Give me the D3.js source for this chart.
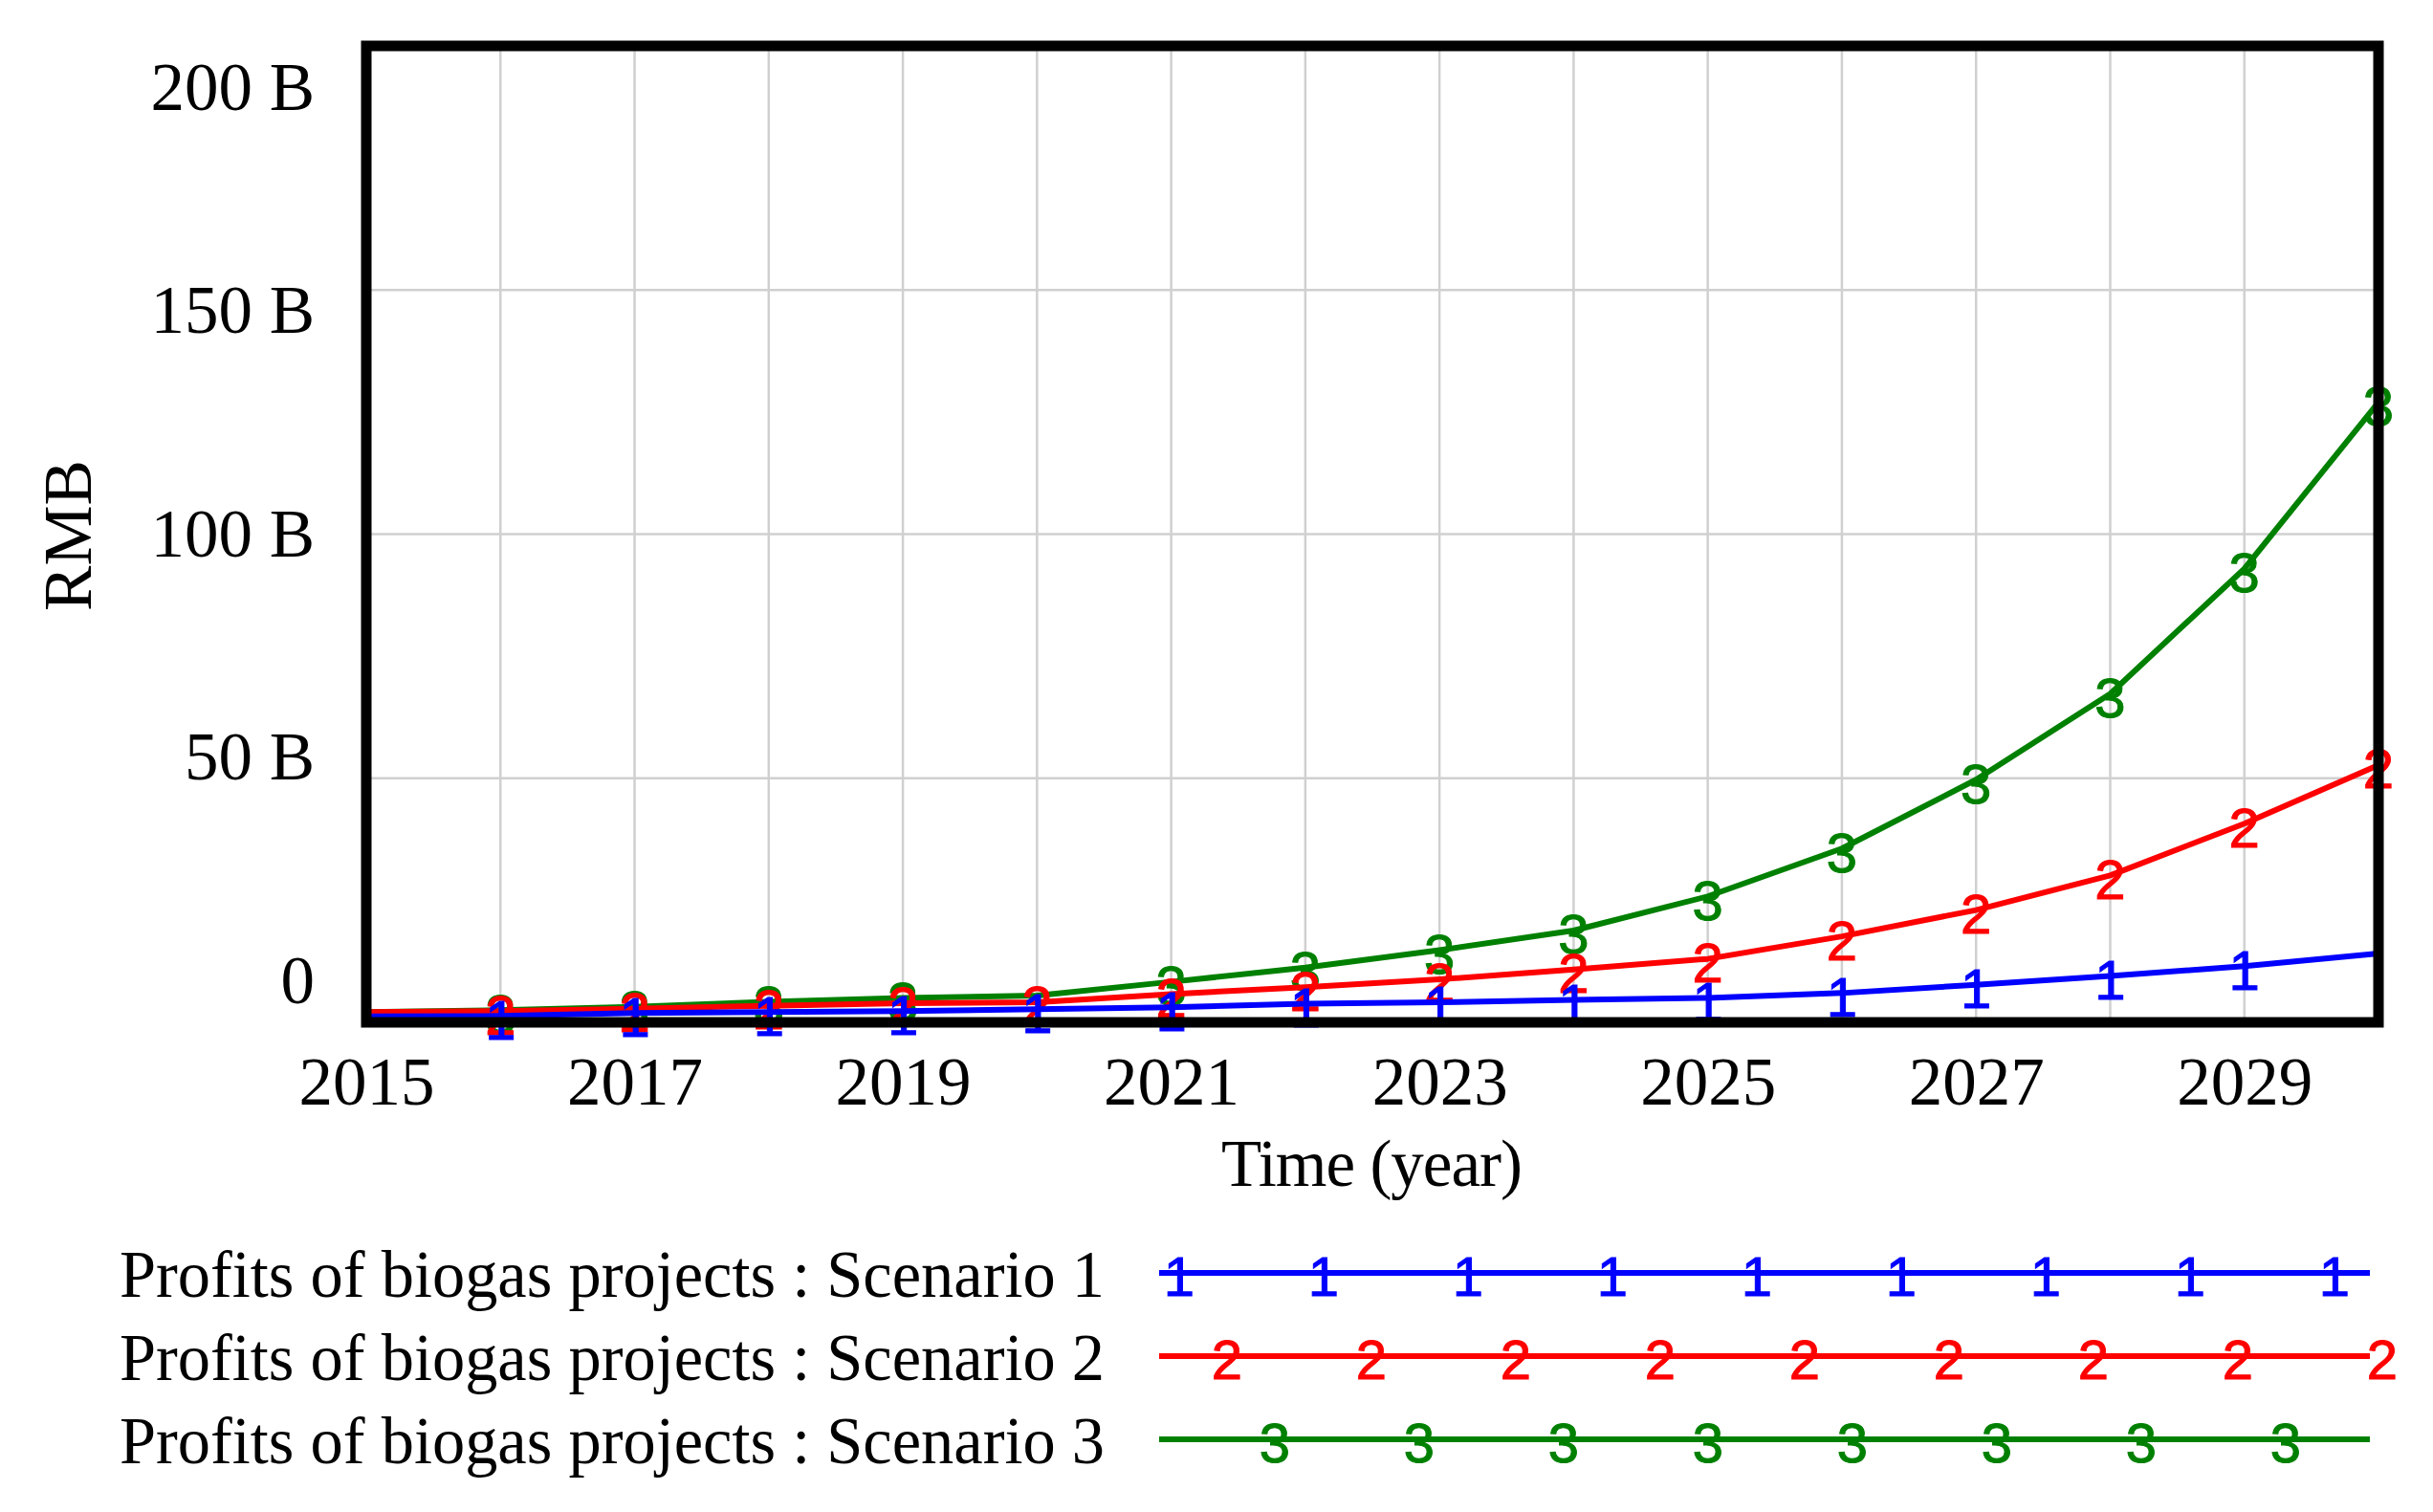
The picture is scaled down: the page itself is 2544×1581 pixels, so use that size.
<!DOCTYPE html>
<html>
<head>
<meta charset="utf-8">
<script src="https://cdn.jsdelivr.net/npm/d3@7/dist/d3.min.js"></script>
<style>
    body { margin: 0; background: #ffffff; }
    .serif { font-family: "Liberation Serif", "Times New Roman", serif; fill: #000; }
    .marker { font-family: "Liberation Sans", Arial, sans-serif; }
</style>
</head>
<body>
<svg id="chart" width="2544" height="1581"></svg>
<script>
// data (billion RMB)
const years = [2015, 2016, 2017, 2018, 2019, 2020, 2021, 2022, 2023, 2024, 2025, 2026, 2027, 2028, 2029, 2030];
const scenario1 = [1.2, 1.3, 1.9, 2.1, 2.3, 2.7, 3.1, 3.8, 4.1, 4.6, 5.0, 6.0, 7.7, 9.5, 11.5, 14.1];
const scenario2 = [2.1, 2.3, 2.8, 3.4, 3.9, 4.1, 5.8, 7.2, 8.8, 10.8, 13.0, 17.6, 23.0, 30.1, 40.7, 52.7];
const scenario3 = [2.1, 2.5, 3.2, 4.2, 5.0, 5.5, 8.3, 11.2, 14.8, 18.8, 25.8, 35.6, 49.7, 67.3, 92.9, 127.0];

// years where the numbered markers sit on each curve
const markers1 = [2016, 2017, 2018, 2019, 2020, 2021, 2022, 2023, 2024, 2025, 2026, 2027, 2028, 2029];
const markers2 = [2016, 2017, 2018, 2019, 2020, 2021, 2022, 2023, 2024, 2025, 2026, 2027, 2028, 2029, 2030];
const markers3 = [2016, 2017, 2018, 2019, 2021, 2022, 2023, 2024, 2025, 2026, 2027, 2028, 2029, 2030];

const xTicks = [2015, 2017, 2019, 2021, 2023, 2025, 2027, 2029];
const xGrid = [2016, 2017, 2018, 2019, 2020, 2021, 2022, 2023, 2024, 2025, 2026, 2027, 2028, 2029];
const yTicks = [0, 50, 100, 150, 200];
const yGrid = [50, 100, 150];

const seriesNames = [
    "Profits of biogas projects : Scenario 1",
    "Profits of biogas projects : Scenario 2",
    "Profits of biogas projects : Scenario 3"
];
const seriesColors = ["#0000ff", "#ff0000", "#008000"];
const seriesLabels = ["1", "2", "3"];

const series = [
    {name: seriesNames[0], color: seriesColors[0], label: seriesLabels[0], values: scenario1, markers: markers1},
    {name: seriesNames[1], color: seriesColors[1], label: seriesLabels[1], values: scenario2, markers: markers2},
    {name: seriesNames[2], color: seriesColors[2], label: seriesLabels[2], values: scenario3, markers: markers3}
];

const svg = d3.select("#chart");
const plot = {left: 383, right: 2487, top: 48, bottom: 1069};
const fontSize = 71;
const legendFont = 69;
const markerSize = 58;

let x = d3.scaleLinear().domain([2015, 2030]).range([plot.left, plot.right]);
let y = d3.scaleLinear().domain([0, 200]).range([plot.bottom, plot.top]);
// vensim spreads the value labels a bit inside the frame
let yLabel = d3.scaleLinear().domain([0, 200]).range([plot.bottom - 21, plot.top + 66]);

//grid
let gridG = svg.append("g").attr("id", "gridG");
gridG.selectAll("line.vgrid")
    .data(xGrid)
    .enter()
    .append("line")
    .attr("class", "vgrid")
    .attr("x1", d => x(d))
    .attr("x2", d => x(d))
    .attr("y1", plot.top)
    .attr("y2", plot.bottom)
    .attr("stroke", "#d0d0d0")
    .attr("stroke-width", 2.5);
gridG.selectAll("line.hgrid")
    .data(yGrid)
    .enter()
    .append("line")
    .attr("class", "hgrid")
    .attr("x1", plot.left)
    .attr("x2", plot.right)
    .attr("y1", d => y(d))
    .attr("y2", d => y(d))
    .attr("stroke", "#d0d0d0")
    .attr("stroke-width", 2.5);

//curves, scenario 3 at the bottom, scenario 1 on top
let line = d3.line()
    .x((d, i) => x(years[i]))
    .y(d => y(d));

let curvesG = svg.append("g").attr("id", "curvesG");
series.slice().reverse().forEach(function (s) {
    curvesG.append("path")
        .datum(s.values)
        .attr("fill", "none")
        .attr("stroke", s.color)
        .attr("stroke-width", 6)
        .attr("stroke-linejoin", "round")
        .attr("d", line);

    curvesG.selectAll("text.m" + s.label)
        .data(s.markers)
        .enter()
        .append("text")
        .attr("class", "marker m" + s.label)
        .attr("x", d => x(d))
        .attr("y", d => y(s.values[years.indexOf(d)]) + markerSize * 0.42)
        .attr("text-anchor", "middle")
        .attr("font-size", markerSize)
        .attr("fill", s.color)
        .attr("stroke", s.color)
        .attr("stroke-width", 1)
        .text(s.label);
});

//frame
svg.append("rect")
    .attr("x", plot.left)
    .attr("y", plot.top)
    .attr("width", plot.right - plot.left)
    .attr("height", plot.bottom - plot.top)
    .attr("fill", "none")
    .attr("stroke", "#000")
    .attr("stroke-width", 11);

//axes
let xAxis = d3.axisBottom(x).tickValues(xTicks).tickFormat(d3.format("d")).tickSize(0);
let xAxisG = svg.append("g")
    .attr("transform", "translate(0," + plot.bottom + ")")
    .call(xAxis);
xAxisG.select(".domain").remove();
xAxisG.selectAll("text")
    .attr("class", "serif")
    .attr("y", 86)
    .attr("dy", 0)
    .attr("font-size", fontSize)
    .attr("font-family", null);

let yAxis = d3.axisLeft(yLabel).tickValues(yTicks)
    .tickFormat(d => d === 0 ? "0" : d + " B")
    .tickSize(0).tickPadding(0);
let yAxisG = svg.append("g")
    .attr("transform", "translate(329,0)")
    .call(yAxis);
yAxisG.select(".domain").remove();
yAxisG.selectAll("text")
    .attr("class", "serif")
    .attr("dy", 0)
    .attr("font-size", fontSize)
    .attr("font-family", null);

//axis titles
svg.append("text")
    .attr("class", "serif")
    .attr("x", 1434)
    .attr("y", 1240)
    .attr("text-anchor", "middle")
    .attr("font-size", legendFont)
    .attr("letter-spacing", -1)
    .text("Time (year)");

svg.append("text")
    .attr("class", "serif")
    .attr("transform", "translate(95,560) rotate(-90)")
    .attr("text-anchor", "middle")
    .attr("font-size", fontSize)
    .text("RMB");

//legend
let legendTop = 1331;
let legendStep = 87;
let legendG = svg.append("g").attr("id", "legendG");
series.forEach(function (s, i) {
    let ly = legendTop + i * legendStep;
    legendG.append("text")
        .attr("class", "serif")
        .attr("x", 125)
        .attr("y", ly + 25)
        .attr("font-size", legendFont)
        .attr("textLength", 1030)
        .attr("lengthAdjust", "spacingAndGlyphs")
        .text(s.name);
    legendG.append("line")
        .attr("x1", 1212)
        .attr("x2", 2478)
        .attr("y1", ly)
        .attr("y2", ly)
        .attr("stroke", s.color)
        .attr("stroke-width", 6);
    // markers every 151px, shifted by a third for each series
    let count = i === 2 ? 8 : 9;
    let marks = d3.range(count).map(k => 1233 + i * 50 + k * 151);
    legendG.selectAll("text.lm" + s.label)
        .data(marks)
        .enter()
        .append("text")
        .attr("class", "marker lm" + s.label)
        .attr("x", d => d)
        .attr("y", ly + markerSize * 0.42)
        .attr("text-anchor", "middle")
        .attr("font-size", markerSize)
        .attr("fill", s.color)
        .attr("stroke", s.color)
        .attr("stroke-width", 1)
        .text(s.label);
});
</script>
</body>
</html>
